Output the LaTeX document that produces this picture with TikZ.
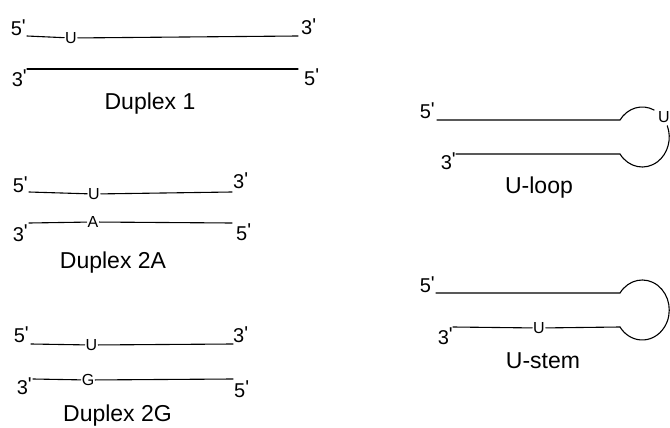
\documentclass[tikz,border=0pt]{standalone}
\usepackage{fontspec}
\setmainfont{Liberation Sans}
\usepackage{tikz}
\usetikzlibrary{positioning}
\newcommand{\prm}{\raisebox{0.12em}{\textquotesingle}}

\begin{document}
\begin{tikzpicture}[
  x=1pt, y=-1pt,
  endl/.style={font=\fontsize{20}{20}\selectfont, inner sep=0pt},
  base/.style={font=\fontsize{16}{16}\selectfont, inner sep=0.8pt},
  ttl/.style={font=\fontsize{23}{23}\selectfont, inner sep=0pt, anchor=base},
  strand/.style={line width=1.1pt, line cap=round}
]
  \useasboundingbox (0,0) rectangle (670,428);

  % Duplex 1
  \coordinate (d1a) at (27,36);   \coordinate (d1b) at (298,36);
  \coordinate (d1c) at (27,69);   \coordinate (d1d) at (298,69);
  \node[base] (d1u) at (71,38) {U};
  \node[endl, above left=0pt and 1pt of d1a] (d1a5) {5\prm};
  \node[endl, above right=1pt and 3pt of d1b] (d1b3) {3\prm};
  \node[endl, below left=1pt and 0pt of d1c] (d1c3) {3\prm};
  \node[endl, below right=0pt and 6pt of d1d] (d1d5) {5\prm};
  \node[ttl] (d1t) at (150,110) {Duplex 1};
  \draw[strand] (d1a) -- (d1u) -- (d1b);
  \draw[strand] (d1c) -- (d1d);

  % Duplex 2A
  \coordinate (d2a) at (29,192);  \coordinate (d2b) at (232,192);
  \coordinate (d2c) at (29,223);  \coordinate (d2d) at (232,223);
  \node[base] (d2u) at (94,194) {U};
  \node[base] (d2x) at (93,222) {A};
  \node[endl, above left=-1pt and 1pt of d2a] (d2a5) {5\prm};
  \node[endl, above right=3pt and 1pt of d2b] (d2b3) {3\prm};
  \node[endl, below left=2pt and 1pt of d2c] (d2c3) {3\prm};
  \node[endl, below right=1pt and 4pt of d2d] (d2d5) {5\prm};
  \node[ttl] (d2t) at (113,268) {Duplex 2A};
  \draw[strand] (d2a) -- (d2u) -- (d2b);
  \draw[strand] (d2c) -- (d2x) -- (d2d);

  % Duplex 2G
  \coordinate (d3a) at (31,344);  \coordinate (d3b) at (233,344);
  \coordinate (d3c) at (33,379);  \coordinate (d3d) at (233,379);
  \node[base] (d3u) at (91.5,345) {U};
  \node[base] (d3x) at (88,380) {G};
  \node[endl, above left=1pt and 2pt of d3a] (d3a5) {5\prm};
  \node[endl, above right=1pt and 0pt of d3b] (d3b3) {3\prm};
  \node[endl, below left=-1pt and 1pt of d3c] (d3c3) {3\prm};
  \node[endl, below right=2pt and 1pt of d3d] (d3d5) {5\prm};
  \node[ttl] (d3t) at (117.5,421) {Duplex 2G};
  \draw[strand] (d3a) -- (d3u) -- (d3b);
  \draw[strand] (d3c) -- (d3x) -- (d3d);

  % U-loop
  \coordinate (ula) at (437,120); \coordinate (ulb) at (620,120);
  \coordinate (ulc) at (456,154); \coordinate (uld) at (620,154);
  \node[base] (ulu) at (664,117) {U};
  \node[endl, above left=1pt and 2pt of ula] (ula5) {5\prm};
  \node[endl, below left=-1pt and 0pt of ulc] (ulc3) {3\prm};
  \node[ttl] (ult) at (539,193) {U-loop};
  \draw[strand] (ula) -- (ulb) arc[start angle=-145.5, end angle=-64, x radius=27, y radius=30];
  \draw[strand] (ulc) -- (uld) arc[start angle=145.5, end angle=-22, x radius=27, y radius=30];

  % U-stem
  \coordinate (usa) at (436,293); \coordinate (usb) at (620,293);
  \coordinate (usc) at (453,327); \coordinate (usd) at (620,327);
  \node[base] (usu) at (539,328) {U};
  \node[endl, above left=0pt and 1pt of usa] (usa5) {5\prm};
  \node[endl, below left=1pt and 0pt of usc] (usc3) {3\prm};
  \node[ttl] (ust) at (543,368) {U-stem};
  \draw[strand] (usa) -- (usb) arc[start angle=-145.5, end angle=145.5, x radius=27, y radius=30];
  \draw[strand] (usc) -- (usu) -- (usd);
\end{tikzpicture}
\end{document}
